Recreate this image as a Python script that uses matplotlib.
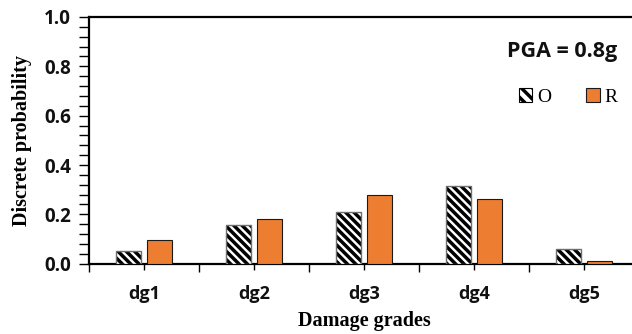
import matplotlib
matplotlib.use("Agg")
import matplotlib.pyplot as plt
import numpy as np
from matplotlib.patches import Patch
from matplotlib.ticker import MultipleLocator, FixedLocator, NullFormatter

plt.rcParams["hatch.linewidth"] = 2.5

categories = ["dg1", "dg2", "dg3", "dg4", "dg5"]
series_o = [0.051, 0.156, 0.208, 0.314, 0.058]
series_r = [0.095, 0.180, 0.277, 0.261, 0.010]
series_names = ["O", "R"]
annotation = "PGA = 0.8g"

W, H = 632, 334
fig = plt.figure(figsize=(W / 100, H / 100), dpi=100)
ax = fig.add_axes([89 / W, (H - 263.7) / H, 550 / W, (263.7 - 17) / H])

x = np.arange(len(categories))
bw = 0.23
off = 0.14
hatch = "\\\\\\\\"
# hatched fill in black, then a thin grey outline on top
ax.bar(x - off, series_o, width=bw, color="white", edgecolor="black",
       linewidth=0, hatch=hatch, zorder=3)
ax.bar(x - off, series_o, width=bw, color="none", edgecolor="#6e6e6e",
       linewidth=1.0, zorder=4)
ax.bar(x + off, series_r, width=bw, color="#ED7D31", edgecolor="#1a1a1a",
       linewidth=0.8, zorder=3)

ax.set_xlim(-0.5, len(categories) - 0.5)
ax.set_ylim(0, 1.0)

# y ticks
ax.yaxis.set_minor_locator(MultipleLocator(0.04))
ax.set_yticks(np.arange(0, 1.01, 0.2))
ax.set_yticklabels([f"{v:.1f}" for v in np.arange(0, 1.01, 0.2)])
ax.tick_params(axis="y", which="both", direction="out", length=7, width=1.0,
               labelsize=13.5, pad=6)

# x ticks: long at category boundaries, short at centres
ax.xaxis.set_major_locator(FixedLocator(np.arange(-0.5, len(categories), 1.0)))
ax.xaxis.set_major_formatter(NullFormatter())
ax.xaxis.set_minor_locator(FixedLocator(x))
ax.set_xticklabels(categories, minor=True)
ax.tick_params(axis="x", which="major", direction="out", length=6, width=1.0)
ax.tick_params(axis="x", which="minor", direction="out", length=4, width=1.0,
               labelsize=13, pad=11)

for lbl in ax.get_xticklabels(minor=True) + ax.get_yticklabels():
    lbl.set_fontfamily("Open Sans")
    lbl.set_fontweight("bold")
    lbl.set_color("#111111")

for sp in ax.spines.values():
    sp.set_linewidth(1.6)
    sp.set_color("black")

ax.set_ylabel("Discrete probability", family="Liberation Serif",
              fontweight="bold", fontsize=14.5, labelpad=9)
ax.set_xlabel("Damage grades", family="Liberation Serif",
              fontweight="bold", fontsize=14.5, labelpad=6)

fig.text(562 / W, 1 - 52 / H, annotation, family="Open Sans", fontweight="bold",
         fontsize=15.5, ha="center", va="center", color="#111111")

handles = [Patch(facecolor="white", edgecolor="black", hatch="\\\\\\", linewidth=0.8),
           Patch(facecolor="#ED7D31", edgecolor="#1a1a1a", linewidth=0.8)]
leg = fig.legend(handles, series_names, loc="center", bbox_to_anchor=(568 / W, 1 - 97 / H),
                 ncol=2, frameon=False, prop={"family": "Liberation Serif", "size": 14},
                 handlelength=0.7, handleheight=0.7, handletextpad=0.25,
                 columnspacing=1.8)

fig.savefig("out.png", dpi=100)
